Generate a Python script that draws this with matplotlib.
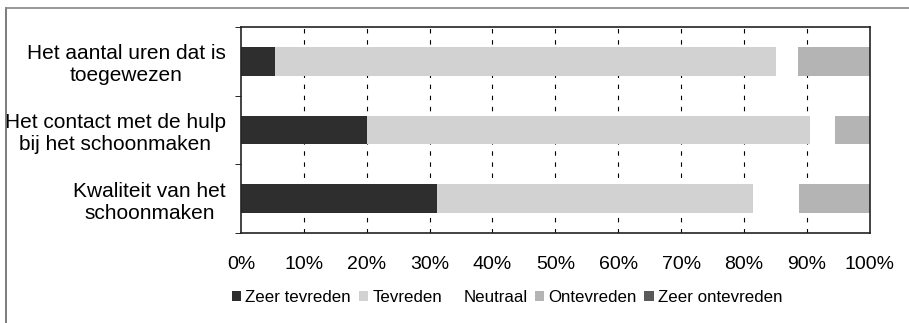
import numpy as np
import matplotlib.pyplot as plt
from matplotlib.lines import Line2D

plt.rcParams['font.family'] = ['Liberation Sans', 'DejaVu Sans']

# Satisfaction shares (%) per question, top to bottom
questions = ["Het aantal uren dat is\ntoegewezen",
             "Het contact met de hulp\nbij het schoonmaken",
             "Kwaliteit van het\nschoonmaken"]
categories = ["Zeer tevreden", "Tevreden", "Neutraal", "Ontevreden", "Zeer ontevreden"]
zeer_tevreden = [5.4, 20.0, 31.1]
tevreden = [79.6, 70.5, 50.3]
neutraal = [3.6, 3.9, 7.3]
ontevreden = [11.4, 5.6, 11.3]
zeer_ontevreden = [0.0, 0.0, 0.0]
xticklabels = ["0%", "10%", "20%", "30%", "40%", "50%", "60%", "70%", "80%", "90%", "100%"]

series = [zeer_tevreden, tevreden, neutraal, ontevreden, zeer_ontevreden]
colors = ["#2e2e2e", "#d2d2d2", "#ffffff", "#b4b4b4", "#5a5a5a"]

fig = plt.figure(figsize=(9.09, 3.23), dpi=100)
ax = fig.add_axes([0.265, 0.279, 0.692, 0.637])

y = np.arange(len(questions))
left = np.zeros(len(questions))
for name, vals, col in zip(categories, series, colors):
    ax.barh(y, vals, left=left, height=0.42, color=col, label=name, zorder=2)
    left += np.array(vals)

ax.set_xlim(0, 100)
ax.set_ylim(len(questions) - 0.5, -0.5)
ax.set_xticks(np.arange(0, 101, 10))
ax.set_xticklabels(xticklabels, fontsize=14)
ax.tick_params(axis='x', length=0, pad=17)
ax.set_yticks(y)
ax.set_yticklabels(questions, fontsize=15, multialignment='center')
ax.tick_params(axis='y', which='major', length=0, pad=11)
ax.set_yticks(np.arange(-0.5, len(questions)), minor=True)
ax.tick_params(axis='y', which='minor', length=4, direction='out')

for xv in range(10, 100, 10):
    ax.axvline(xv, color='black', linewidth=0.8, linestyle=(0, (4, 6)), zorder=1)

for s in ax.spines.values():
    s.set_linewidth(1.2)
    s.set_color('#222222')

ax.legend(loc='center', bbox_to_anchor=(0.558, 0.078), bbox_transform=fig.transFigure,
          ncol=5, frameon=False, fontsize=12.2, handlelength=0.55, handleheight=0.55,
          handletextpad=0.25, columnspacing=0.45)

# chart area border (left and top edges)
fig.add_artist(Line2D([0.007, 0.007], [0.0, 0.975], color='#666666', linewidth=1.2))
fig.add_artist(Line2D([0.007, 1.0], [0.975, 0.975], color='#888888', linewidth=1.2))

fig.savefig("out.png", dpi=100)
